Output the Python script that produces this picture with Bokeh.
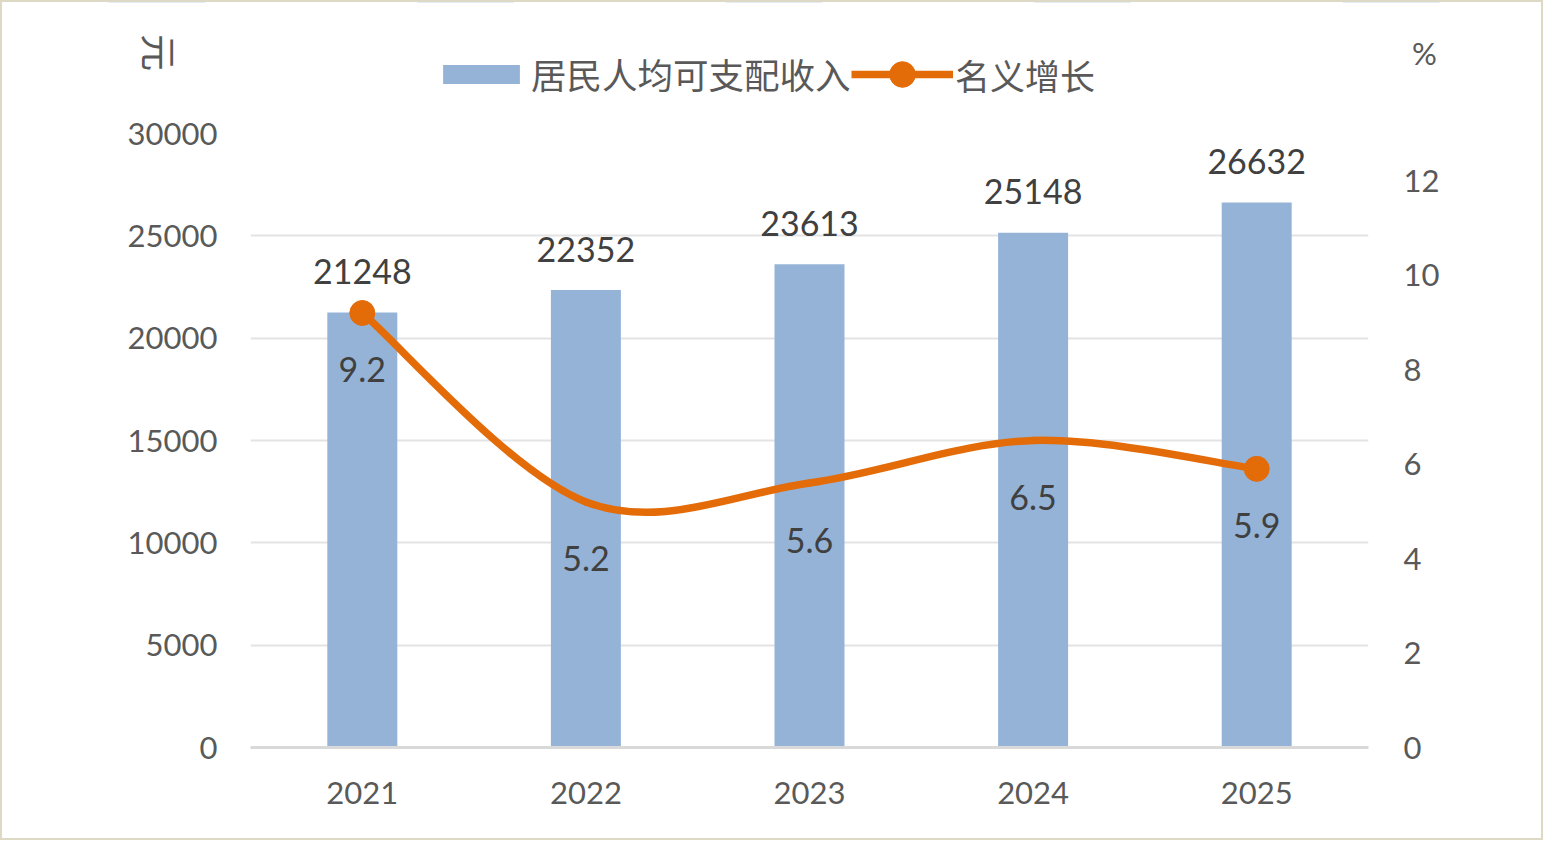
import math
from bokeh.plotting import figure
from bokeh.layouts import column
from bokeh.models import (Range1d, LinearAxis, FixedTicker, Label, Legend,
                          LegendItem, NumeralTickFormatter)
from bokeh.core.properties import value
from bokeh.embed import file_html
from bokeh.resources import INLINE

# ---- data ----
years = ["2021", "2022", "2023", "2024", "2025"]
income = [21248, 22352, 23613, 25148, 26632]
growth = [9.2, 5.2, 5.6, 6.5, 5.9]
income_ticks = [0, 5000, 10000, 15000, 20000, 25000, 30000]
growth_ticks = [0, 2, 4, 6, 8, 10, 12]
income_name = "居民人均可支配收入"
growth_name = "名义增长"
left_unit = "元"
right_unit = "%"

# ---- style / layout ----
BAR = "#95B3D7"
LINE = "#E36C09"
TICK = "#595959"
LABEL = "#404040"
GRID = "#E3E3E3"
EDGE = "2px solid #DDD9C4"
NUM_FONT = "Lato"
CJK_FONT = "Noto Sans CJK SC"

W = 1543
HH = 112                 # header (legend + units) height
HM = 840 - HH            # main chart height
BL, BT, BR, BB = 248, 21, 177, 93
Y_MAX, P_MAX = 30000, 13

xs = list(range(len(years)))
n = len(xs)
ends = [0, n - 1]

# ================= main chart =================
p = figure(width=W, height=HM, output_backend="svg", toolbar_location=None,
           x_range=Range1d(-0.5, n - 0.5), y_range=Range1d(0, Y_MAX),
           min_border_left=BL, min_border_right=BR,
           min_border_top=BT, min_border_bottom=BB)
p.frame_align = False
p.styles = {"border-left": EDGE, "border-right": EDGE, "border-bottom": EDGE}
p.outline_line_color = None
p.background_fill_color = "white"
p.border_fill_color = "white"
p.extra_y_ranges = {"pct": Range1d(0, P_MAX)}

p.xgrid.visible = False
p.ygrid.ticker = FixedTicker(ticks=income_ticks)
p.ygrid.grid_line_color = GRID
p.ygrid.grid_line_width = 2

ya = p.yaxis[0]
ya.ticker = FixedTicker(ticks=income_ticks)
ya.formatter = NumeralTickFormatter(format="0")
ya.axis_line_color = None
ya.major_tick_line_color = None
ya.minor_tick_line_color = None
ya.major_label_standoff = 27
ya.major_label_text_font = NUM_FONT
ya.major_label_text_font_size = "31px"
ya.major_label_text_color = TICK

ra = LinearAxis(y_range_name="pct", ticker=FixedTicker(ticks=growth_ticks))
ra.axis_line_color = None
ra.major_tick_line_color = None
ra.minor_tick_line_color = None
ra.major_label_standoff = 29
ra.major_label_text_font = NUM_FONT
ra.major_label_text_font_size = "31px"
ra.major_label_text_color = TICK
p.add_layout(ra, "right")

xa = p.xaxis[0]
xa.ticker = FixedTicker(ticks=xs)
xa.major_label_overrides = {i: y for i, y in zip(xs, years)}
xa.axis_line_color = "#D9D9D9"
xa.axis_line_width = 3
xa.major_tick_line_color = None
xa.minor_tick_line_color = None
xa.major_label_standoff = 28
xa.major_label_text_font = NUM_FONT
xa.major_label_text_font_size = "31px"
xa.major_label_text_color = TICK

p.vbar(x=xs, top=income, width=0.313, fill_color=BAR, line_color=None)

# smoothed line: cubic Bezier segments through the data points
def tangent(i):
    a, b = max(i - 1, 0), min(i + 1, n - 1)
    return (xs[b] - xs[a]) / 6.0, (growth[b] - growth[a]) / 6.0

seg = dict(x0=[], y0=[], x1=[], y1=[], cx0=[], cy0=[], cx1=[], cy1=[])
for i in range(n - 1):
    t0, t1 = tangent(i), tangent(i + 1)
    seg["x0"].append(xs[i]); seg["y0"].append(growth[i])
    seg["x1"].append(xs[i + 1]); seg["y1"].append(growth[i + 1])
    seg["cx0"].append(xs[i] + t0[0]); seg["cy0"].append(growth[i] + t0[1])
    seg["cx1"].append(xs[i + 1] - t1[0]); seg["cy1"].append(growth[i + 1] - t1[1])
p.bezier(**seg, line_color=LINE, line_width=7.5, line_cap="round",
         line_join="round", y_range_name="pct")

p.scatter(x=[xs[i] for i in ends], y=[growth[i] for i in ends], size=25,
          fill_color=LINE, line_color=LINE, y_range_name="pct")

p.text(x=xs, y=income, text=[str(v) for v in income], text_font=value(NUM_FONT),
       text_font_size="34px", text_color=LABEL, text_align="center",
       text_baseline="middle", y_offset=-41)
p.text(x=xs, y=growth, text=[f"{v:.1f}" for v in growth], text_font=value(NUM_FONT),
       text_font_size="34px", text_color=LABEL, text_align="center",
       text_baseline="middle", y_offset=57, y_range_name="pct")

# ================= header: legend and unit labels =================
# its y range lies below the data, so the legend key renderers draw nothing here
h = figure(width=W, height=HH, output_backend="svg", toolbar_location=None,
           x_range=Range1d(-0.5, n - 0.5), y_range=Range1d(-2, -1),
           x_axis_type=None, y_axis_type=None,
           min_border_left=0, min_border_right=0, min_border_top=0, min_border_bottom=0)
h.frame_align = False
h.styles = {"border-left": EDGE, "border-right": EDGE, "border-top": EDGE}
h.outline_line_color = None
h.xgrid.visible = False
h.ygrid.visible = False
h.border_fill_color = "white"
h.background_fill_color = "white"

kb = h.vbar(x=xs, top=income, width=0.313, fill_color=BAR, line_color=None)
kl = h.line(x=xs, y=growth, line_color=LINE, line_width=7.5)
ks = h.scatter(x=[xs[i] for i in ends], y=[growth[i] for i in ends], size=25,
               fill_color=LINE, line_color=LINE)

common = dict(orientation="horizontal", padding=0, margin=0, spacing=0,
              border_line_color=None, background_fill_alpha=0,
              label_text_font=CJK_FONT,
              label_text_color=TICK, label_standoff=2)
leg1 = Legend(items=[LegendItem(label=income_name, renderers=[kb])],
              location=(431, 15), glyph_width=96, glyph_height=24,
              label_text_font_size="35.5px", **common)
leg2 = Legend(items=[LegendItem(label=growth_name, renderers=[kl, ks])],
              location=(849, 8), glyph_width=102, glyph_height=64,
              label_text_font_size="35px", **common)
h.add_layout(leg1, "center")
h.add_layout(leg2, "center")

h.add_layout(Label(x=157, y=62, x_units="screen", y_units="screen", text=left_unit,
                   angle=-math.pi / 2, text_align="center", text_baseline="middle",
                   text_font=CJK_FONT, text_font_size="37px", text_color=TICK))
h.add_layout(Label(x=1422, y=62, x_units="screen", y_units="screen", text=right_unit,
                   text_align="center", text_baseline="middle",
                   text_font=NUM_FONT, text_font_size="31px", text_color=TICK))

layout = column(h, p, spacing=0)
open("out.html", "w").write(file_html(layout, INLINE))
